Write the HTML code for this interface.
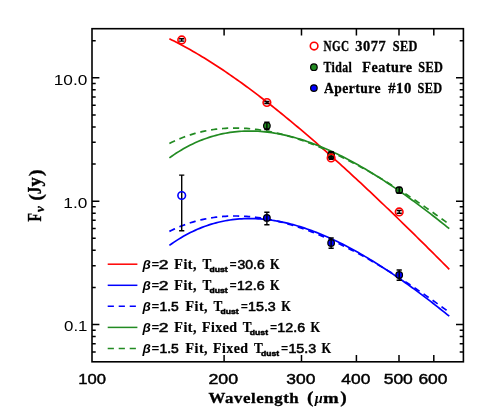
<!DOCTYPE html><html><head><meta charset="utf-8"><style>html,body{margin:0;padding:0;background:#fff}svg{display:block;will-change:transform}text{fill:#000}</style></head><body>
<svg width="491" height="420" viewBox="0 0 491 420">
<rect width="491" height="420" fill="#fff"/>
<path d="M169.39,38.81 L171.72,39.95 L174.06,41.11 L176.39,42.29 L178.72,43.50 L181.05,44.72 L183.39,45.97 L185.72,47.24 L188.05,48.53 L190.38,49.83 L192.72,51.16 L195.05,52.51 L197.38,53.87 L199.71,55.26 L202.05,56.66 L204.38,58.08 L206.71,59.52 L209.04,60.97 L211.37,62.45 L213.71,63.94 L216.04,65.45 L218.37,66.97 L220.70,68.51 L223.04,70.07 L225.37,71.64 L227.70,73.23 L230.03,74.83 L232.37,76.45 L234.70,78.08 L237.03,79.73 L239.36,81.39 L241.70,83.06 L244.03,84.75 L246.36,86.46 L248.69,88.17 L251.02,89.90 L253.36,91.65 L255.69,93.40 L258.02,95.17 L260.35,96.95 L262.69,98.75 L265.02,100.55 L267.35,102.37 L269.68,104.20 L272.02,106.04 L274.35,107.89 L276.68,109.75 L279.01,111.63 L281.35,113.51 L283.68,115.41 L286.01,117.32 L288.34,119.23 L290.67,121.16 L293.01,123.10 L295.34,125.04 L297.67,127.00 L300.00,128.97 L302.34,130.94 L304.67,132.93 L307.00,134.92 L309.33,136.92 L311.67,138.93 L314.00,140.95 L316.33,142.98 L318.66,145.02 L321.00,147.06 L323.33,149.12 L325.66,151.18 L327.99,153.25 L330.33,155.33 L332.66,157.41 L334.99,159.51 L337.32,161.61 L339.65,163.71 L341.99,165.83 L344.32,167.95 L346.65,170.08 L348.98,172.21 L351.32,174.36 L353.65,176.51 L355.98,178.66 L358.31,180.82 L360.65,182.99 L362.98,185.17 L365.31,187.35 L367.64,189.54 L369.98,191.73 L372.31,193.93 L374.64,196.13 L376.97,198.35 L379.30,200.56 L381.64,202.78 L383.97,205.01 L386.30,207.24 L388.63,209.48 L390.97,211.73 L393.30,213.98 L395.63,216.23 L397.96,218.49 L400.30,220.75 L402.63,223.02 L404.96,225.29 L407.29,227.57 L409.63,229.86 L411.96,232.14 L414.29,234.43 L416.62,236.73 L418.95,239.03 L421.29,241.34 L423.62,243.65 L425.95,245.96 L428.28,248.28 L430.62,250.60 L432.95,252.93 L435.28,255.26 L437.61,257.59 L439.95,259.93 L442.28,262.27 L444.61,264.61 L446.94,266.96 L449.28,269.32" fill="none" stroke="#ff0000" stroke-width="1.7"/>
<path d="M169.39,157.86 L171.72,156.21 L174.06,154.62 L176.39,153.08 L178.72,151.61 L181.05,150.19 L183.39,148.83 L185.72,147.52 L188.05,146.27 L190.38,145.08 L192.72,143.93 L195.05,142.85 L197.38,141.81 L199.71,140.83 L202.05,139.89 L204.38,139.01 L206.71,138.18 L209.04,137.39 L211.37,136.66 L213.71,135.97 L216.04,135.33 L218.37,134.74 L220.70,134.19 L223.04,133.69 L225.37,133.24 L227.70,132.83 L230.03,132.46 L232.37,132.13 L234.70,131.85 L237.03,131.61 L239.36,131.42 L241.70,131.26 L244.03,131.14 L246.36,131.07 L248.69,131.03 L251.02,131.03 L253.36,131.07 L255.69,131.15 L258.02,131.26 L260.35,131.41 L262.69,131.60 L265.02,131.83 L267.35,132.09 L269.68,132.38 L272.02,132.71 L274.35,133.07 L276.68,133.47 L279.01,133.90 L281.35,134.36 L283.68,134.85 L286.01,135.37 L288.34,135.93 L290.67,136.52 L293.01,137.13 L295.34,137.78 L297.67,138.46 L300.00,139.16 L302.34,139.89 L304.67,140.66 L307.00,141.44 L309.33,142.26 L311.67,143.10 L314.00,143.97 L316.33,144.87 L318.66,145.79 L321.00,146.74 L323.33,147.71 L325.66,148.71 L327.99,149.73 L330.33,150.77 L332.66,151.84 L334.99,152.94 L337.32,154.05 L339.65,155.19 L341.99,156.35 L344.32,157.53 L346.65,158.73 L348.98,159.95 L351.32,161.20 L353.65,162.47 L355.98,163.75 L358.31,165.06 L360.65,166.38 L362.98,167.73 L365.31,169.09 L367.64,170.47 L369.98,171.87 L372.31,173.29 L374.64,174.73 L376.97,176.18 L379.30,177.65 L381.64,179.14 L383.97,180.65 L386.30,182.17 L388.63,183.71 L390.97,185.27 L393.30,186.84 L395.63,188.42 L397.96,190.02 L400.30,191.64 L402.63,193.27 L404.96,194.92 L407.29,196.58 L409.63,198.25 L411.96,199.94 L414.29,201.64 L416.62,203.36 L418.95,205.09 L421.29,206.83 L423.62,208.58 L425.95,210.35 L428.28,212.13 L430.62,213.92 L432.95,215.73 L435.28,217.54 L437.61,219.37 L439.95,221.21 L442.28,223.06 L444.61,224.92 L446.94,226.80 L449.28,228.68" fill="none" stroke="#228b22" stroke-width="1.7"/>
<path d="M169.39,143.41 L171.72,142.26 L174.06,141.17 L176.39,140.13 L178.72,139.13 L181.05,138.18 L183.39,137.28 L185.72,136.42 L188.05,135.61 L190.38,134.84 L192.72,134.12 L195.05,133.44 L197.38,132.81 L199.71,132.21 L202.05,131.66 L204.38,131.15 L206.71,130.68 L209.04,130.25 L211.37,129.86 L213.71,129.51 L216.04,129.20 L218.37,128.93 L220.70,128.69 L223.04,128.50 L225.37,128.33 L227.70,128.21 L230.03,128.12 L232.37,128.06 L234.70,128.04 L237.03,128.05 L239.36,128.10 L241.70,128.18 L244.03,128.30 L246.36,128.44 L248.69,128.62 L251.02,128.83 L253.36,129.07 L255.69,129.34 L258.02,129.64 L260.35,129.97 L262.69,130.33 L265.02,130.72 L267.35,131.13 L269.68,131.58 L272.02,132.05 L274.35,132.55 L276.68,133.07 L279.01,133.63 L281.35,134.20 L283.68,134.81 L286.01,135.44 L288.34,136.09 L290.67,136.77 L293.01,137.47 L295.34,138.20 L297.67,138.95 L300.00,139.72 L302.34,140.52 L304.67,141.34 L307.00,142.18 L309.33,143.04 L311.67,143.92 L314.00,144.82 L316.33,145.75 L318.66,146.70 L321.00,147.66 L323.33,148.65 L325.66,149.65 L327.99,150.68 L330.33,151.72 L332.66,152.78 L334.99,153.86 L337.32,154.96 L339.65,156.07 L341.99,157.21 L344.32,158.36 L346.65,159.53 L348.98,160.71 L351.32,161.91 L353.65,163.13 L355.98,164.36 L358.31,165.61 L360.65,166.88 L362.98,168.16 L365.31,169.45 L367.64,170.76 L369.98,172.08 L372.31,173.42 L374.64,174.77 L376.97,176.14 L379.30,177.52 L381.64,178.91 L383.97,180.32 L386.30,181.74 L388.63,183.17 L390.97,184.61 L393.30,186.07 L395.63,187.54 L397.96,189.02 L400.30,190.52 L402.63,192.02 L404.96,193.54 L407.29,195.07 L409.63,196.60 L411.96,198.15 L414.29,199.71 L416.62,201.29 L418.95,202.87 L421.29,204.46 L423.62,206.06 L425.95,207.67 L428.28,209.30 L430.62,210.93 L432.95,212.57 L435.28,214.22 L437.61,215.88 L439.95,217.55 L442.28,219.22 L444.61,220.91 L446.94,222.61 L449.28,224.31" fill="none" stroke="#228b22" stroke-width="1.7" stroke-dasharray="6.2,4.8"/>
<path d="M169.39,245.38 L171.72,243.73 L174.06,242.14 L176.39,240.60 L178.72,239.13 L181.05,237.71 L183.39,236.35 L185.72,235.04 L188.05,233.79 L190.38,232.60 L192.72,231.45 L195.05,230.37 L197.38,229.33 L199.71,228.35 L202.05,227.41 L204.38,226.53 L206.71,225.70 L209.04,224.91 L211.37,224.18 L213.71,223.49 L216.04,222.85 L218.37,222.26 L220.70,221.72 L223.04,221.21 L225.37,220.76 L227.70,220.35 L230.03,219.98 L232.37,219.66 L234.70,219.37 L237.03,219.13 L239.36,218.94 L241.70,218.78 L244.03,218.66 L246.36,218.59 L248.69,218.55 L251.02,218.55 L253.36,218.59 L255.69,218.67 L258.02,218.78 L260.35,218.94 L262.69,219.12 L265.02,219.35 L267.35,219.61 L269.68,219.90 L272.02,220.23 L274.35,220.59 L276.68,220.99 L279.01,221.42 L281.35,221.88 L283.68,222.37 L286.01,222.90 L288.34,223.45 L290.67,224.04 L293.01,224.65 L295.34,225.30 L297.67,225.98 L300.00,226.68 L302.34,227.41 L304.67,228.18 L307.00,228.97 L309.33,229.78 L311.67,230.63 L314.00,231.50 L316.33,232.39 L318.66,233.31 L321.00,234.26 L323.33,235.23 L325.66,236.23 L327.99,237.25 L330.33,238.30 L332.66,239.36 L334.99,240.46 L337.32,241.57 L339.65,242.71 L341.99,243.87 L344.32,245.05 L346.65,246.25 L348.98,247.48 L351.32,248.72 L353.65,249.99 L355.98,251.27 L358.31,252.58 L360.65,253.90 L362.98,255.25 L365.31,256.61 L367.64,257.99 L369.98,259.39 L372.31,260.81 L374.64,262.25 L376.97,263.70 L379.30,265.18 L381.64,266.66 L383.97,268.17 L386.30,269.69 L388.63,271.23 L390.97,272.79 L393.30,274.36 L395.63,275.94 L397.96,277.54 L400.30,279.16 L402.63,280.79 L404.96,282.44 L407.29,284.10 L409.63,285.77 L411.96,287.46 L414.29,289.16 L416.62,290.88 L418.95,292.61 L421.29,294.35 L423.62,296.10 L425.95,297.87 L428.28,299.65 L430.62,301.44 L432.95,303.25 L435.28,305.06 L437.61,306.89 L439.95,308.73 L442.28,310.58 L444.61,312.45 L446.94,314.32 L449.28,316.20" fill="none" stroke="#0000ff" stroke-width="1.7"/>
<path d="M169.39,231.37 L171.72,230.23 L174.06,229.14 L176.39,228.09 L178.72,227.10 L181.05,226.15 L183.39,225.25 L185.72,224.39 L188.05,223.58 L190.38,222.81 L192.72,222.09 L195.05,221.41 L197.38,220.77 L199.71,220.18 L202.05,219.63 L204.38,219.12 L206.71,218.65 L209.04,218.22 L211.37,217.83 L213.71,217.48 L216.04,217.17 L218.37,216.90 L220.70,216.66 L223.04,216.46 L225.37,216.30 L227.70,216.17 L230.03,216.08 L232.37,216.03 L234.70,216.01 L237.03,216.02 L239.36,216.07 L241.70,216.15 L244.03,216.26 L246.36,216.41 L248.69,216.59 L251.02,216.79 L253.36,217.03 L255.69,217.30 L258.02,217.60 L260.35,217.93 L262.69,218.29 L265.02,218.68 L267.35,219.10 L269.68,219.54 L272.02,220.01 L274.35,220.51 L276.68,221.04 L279.01,221.59 L281.35,222.17 L283.68,222.77 L286.01,223.40 L288.34,224.06 L290.67,224.74 L293.01,225.44 L295.34,226.16 L297.67,226.91 L300.00,227.69 L302.34,228.48 L304.67,229.30 L307.00,230.14 L309.33,231.00 L311.67,231.89 L314.00,232.79 L316.33,233.72 L318.66,234.66 L321.00,235.63 L323.33,236.61 L325.66,237.62 L327.99,238.64 L330.33,239.68 L332.66,240.75 L334.99,241.83 L337.32,242.93 L339.65,244.04 L341.99,245.17 L344.32,246.33 L346.65,247.49 L348.98,248.68 L351.32,249.88 L353.65,251.10 L355.98,252.33 L358.31,253.58 L360.65,254.84 L362.98,256.12 L365.31,257.42 L367.64,258.73 L369.98,260.05 L372.31,261.39 L374.64,262.74 L376.97,264.11 L379.30,265.49 L381.64,266.88 L383.97,268.28 L386.30,269.70 L388.63,271.14 L390.97,272.58 L393.30,274.04 L395.63,275.51 L397.96,276.99 L400.30,278.48 L402.63,279.99 L404.96,281.50 L407.29,283.03 L409.63,284.57 L411.96,286.12 L414.29,287.68 L416.62,289.25 L418.95,290.83 L421.29,292.43 L423.62,294.03 L425.95,295.64 L428.28,297.26 L430.62,298.89 L432.95,300.53 L435.28,302.18 L437.61,303.84 L439.95,305.51 L442.28,307.19 L444.61,308.88 L446.94,310.57 L449.28,312.28" fill="none" stroke="#0000ff" stroke-width="1.7" stroke-dasharray="6.2,4.8"/>
<rect x="92.0" y="28.7" width="371.4" height="333.1" fill="none" stroke="#000" stroke-width="1.6"/>
<path d="M224.10,361.80 v-6.90 M224.10,28.70 v6.90 M301.49,361.80 v-6.90 M301.49,28.70 v6.90 M356.41,361.80 v-6.90 M356.41,28.70 v6.90 M399.00,361.80 v-6.90 M399.00,28.70 v6.90 M433.80,361.80 v-6.90 M433.80,28.70 v6.90 M92.00,351.98 h3.70 M463.40,351.98 h-3.70 M92.00,343.71 h3.70 M463.40,343.71 h-3.70 M92.00,336.56 h3.70 M463.40,336.56 h-3.70 M92.00,330.25 h3.70 M463.40,330.25 h-3.70 M92.00,324.60 h7.40 M463.40,324.60 h-7.40 M92.00,287.45 h3.70 M463.40,287.45 h-3.70 M92.00,265.72 h3.70 M463.40,265.72 h-3.70 M92.00,250.31 h3.70 M463.40,250.31 h-3.70 M92.00,238.35 h3.70 M463.40,238.35 h-3.70 M92.00,228.58 h3.70 M463.40,228.58 h-3.70 M92.00,220.31 h3.70 M463.40,220.31 h-3.70 M92.00,213.16 h3.70 M463.40,213.16 h-3.70 M92.00,206.85 h3.70 M463.40,206.85 h-3.70 M92.00,201.20 h7.40 M463.40,201.20 h-7.40 M92.00,164.05 h3.70 M463.40,164.05 h-3.70 M92.00,142.32 h3.70 M463.40,142.32 h-3.70 M92.00,126.91 h3.70 M463.40,126.91 h-3.70 M92.00,114.95 h3.70 M463.40,114.95 h-3.70 M92.00,105.18 h3.70 M463.40,105.18 h-3.70 M92.00,96.91 h3.70 M463.40,96.91 h-3.70 M92.00,89.76 h3.70 M463.40,89.76 h-3.70 M92.00,83.45 h3.70 M463.40,83.45 h-3.70 M92.00,77.80 h7.40 M463.40,77.80 h-7.40 M92.00,40.65 h3.70 M463.40,40.65 h-3.70" fill="none" stroke="#000" stroke-width="1.5"/>
<circle cx="266.89" cy="125.80" r="3.3" fill="#228b22" stroke="#000" stroke-width="1.2"/><path d="M266.89,122.30 V129.50 M264.29,122.30 h5.20 M264.29,129.50 h5.20" stroke="#000" stroke-width="1.4" fill="none"/>
<circle cx="331.12" cy="155.10" r="3.3" fill="#228b22" stroke="#000" stroke-width="1.2"/><path d="M331.12,151.80 V158.40 M328.52,151.80 h5.20 M328.52,158.40 h5.20" stroke="#000" stroke-width="1.4" fill="none"/>
<circle cx="399.20" cy="190.20" r="3.3" fill="#228b22" stroke="#000" stroke-width="1.2"/><path d="M399.20,187.40 V193.00 M396.60,187.40 h5.20 M396.60,193.00 h5.20" stroke="#000" stroke-width="1.4" fill="none"/>
<path d="M181.71,175.10 V230.70 M179.11,175.10 h5.20 M179.11,230.70 h5.20" stroke="#000" stroke-width="1.4" fill="none"/><circle cx="181.71" cy="195.50" r="3.8" fill="none" stroke="#0000ff" stroke-width="1.6"/>
<circle cx="266.89" cy="217.90" r="3.3" fill="#0000ff" stroke="#000" stroke-width="1.2"/><path d="M266.89,212.30 V224.80 M264.29,212.30 h5.20 M264.29,224.80 h5.20" stroke="#000" stroke-width="1.4" fill="none"/>
<circle cx="331.12" cy="243.00" r="3.3" fill="#0000ff" stroke="#000" stroke-width="1.2"/><path d="M331.12,238.00 V248.20 M328.52,238.00 h5.20 M328.52,248.20 h5.20" stroke="#000" stroke-width="1.4" fill="none"/>
<circle cx="399.20" cy="275.00" r="3.3" fill="#0000ff" stroke="#000" stroke-width="1.2"/><path d="M399.20,270.00 V280.30 M396.60,270.00 h5.20 M396.60,280.30 h5.20" stroke="#000" stroke-width="1.4" fill="none"/>
<path d="M181.71,38.70 V41.10 M179.11,38.70 h5.20 M179.11,41.10 h5.20" stroke="#000" stroke-width="1.4" fill="none"/><circle cx="181.71" cy="39.90" r="3.8" fill="none" stroke="#ff0000" stroke-width="1.6"/>
<path d="M266.89,101.50 V103.50 M264.29,101.50 h5.20 M264.29,103.50 h5.20" stroke="#000" stroke-width="1.4" fill="none"/><circle cx="266.89" cy="102.50" r="3.8" fill="none" stroke="#ff0000" stroke-width="1.6"/>
<path d="M331.12,156.60 V159.20 M328.52,156.60 h5.20 M328.52,159.20 h5.20" stroke="#000" stroke-width="1.4" fill="none"/><circle cx="331.12" cy="157.90" r="3.8" fill="none" stroke="#ff0000" stroke-width="1.6"/>
<path d="M399.20,210.50 V213.30 M396.60,210.50 h5.20 M396.60,213.30 h5.20" stroke="#000" stroke-width="1.4" fill="none"/><circle cx="399.20" cy="211.90" r="3.8" fill="none" stroke="#ff0000" stroke-width="1.6"/>
<circle cx="314.1" cy="46.1" r="3.8" fill="none" stroke="#ff0000" stroke-width="1.6"/>
<circle cx="313.9" cy="67.2" r="3.3" fill="#228b22" stroke="#000" stroke-width="1.2"/>
<circle cx="313.9" cy="88.1" r="3.3" fill="#0000ff" stroke="#000" stroke-width="1.2"/>
<path d="M107.7,264.2 H137.4" stroke="#ff0000" stroke-width="1.5" />
<path d="M107.7,285.3 H137.4" stroke="#0000ff" stroke-width="1.5" />
<path d="M107.7,306.3 H137.4" stroke="#0000ff" stroke-width="1.5" stroke-dasharray="6.2,4.8"/>
<path d="M107.7,327.4 H137.4" stroke="#228b22" stroke-width="1.5" />
<path d="M107.7,348.4 H137.4" stroke="#228b22" stroke-width="1.5" stroke-dasharray="6.2,4.8"/>
<text transform="translate(323.49,50.60) scale(0.7816,1)" font-size="14.3" style="font-family:'Liberation Serif';font-weight:bold;stroke:#000;stroke-width:0.3px;letter-spacing:0.5px">NGC</text>
<text transform="translate(355.37,50.60) scale(1.0073,1)" font-size="14.3" style="font-family:'Liberation Serif';font-weight:bold;stroke:#000;stroke-width:0.3px;letter-spacing:0.5px">3077</text>
<text transform="translate(392.68,50.60) scale(0.8618,1)" font-size="14.3" style="font-family:'Liberation Serif';font-weight:bold;stroke:#000;stroke-width:0.3px;letter-spacing:0.5px">SED</text>
<text transform="translate(323.48,71.70) scale(0.8276,1)" font-size="14.3" style="font-family:'Liberation Serif';font-weight:bold;stroke:#000;stroke-width:0.3px;letter-spacing:0.5px">Tidal</text>
<text transform="translate(362.26,71.70) scale(0.9900,1)" font-size="14.3" style="font-family:'Liberation Serif';font-weight:bold;stroke:#000;stroke-width:0.3px;letter-spacing:0.5px">Feature</text>
<text transform="translate(418.18,71.70) scale(0.8618,1)" font-size="14.3" style="font-family:'Liberation Serif';font-weight:bold;stroke:#000;stroke-width:0.3px;letter-spacing:0.5px">SED</text>
<text transform="translate(324.00,92.50) scale(0.9514,1)" font-size="14.3" style="font-family:'Liberation Serif';font-weight:bold;stroke:#000;stroke-width:0.3px;letter-spacing:0.5px">Aperture</text>
<text transform="translate(388.15,92.50) scale(1.0284,1)" font-size="14.3" style="font-family:'Liberation Serif';font-weight:bold;stroke:#000;stroke-width:0.3px;letter-spacing:0.5px">#10</text>
<text transform="translate(417.38,92.50) scale(0.8618,1)" font-size="14.3" style="font-family:'Liberation Serif';font-weight:bold;stroke:#000;stroke-width:0.3px;letter-spacing:0.5px">SED</text>
<text transform="translate(142.40,268.70) scale(1.0065,1)" font-size="13.3" style="font-family:'Liberation Sans';font-weight:bold;font-style:italic">β</text>
<text transform="translate(151.45,268.70) scale(0.9821,1)" font-size="14" style="font-family:'Liberation Serif';font-weight:bold;stroke:#000;stroke-width:0.22px;letter-spacing:0.5px">=</text>
<text transform="translate(158.73,268.70) scale(1.3378,1)" font-size="13" style="font-family:'Liberation Sans';stroke:#000;stroke-width:0.55px">2</text>
<text transform="translate(174.36,268.70) scale(1.0026,1)" font-size="14" style="font-family:'Liberation Serif';font-weight:bold;stroke:#000;stroke-width:0.22px;letter-spacing:0.5px">Fit,</text>
<text transform="translate(202.47,268.70) scale(0.9451,1)" font-size="14" style="font-family:'Liberation Serif';font-weight:bold;stroke:#000;stroke-width:0.22px;letter-spacing:0.5px">T</text>
<text transform="translate(209.46,271.90) scale(1.0760,1)" font-size="8" style="font-family:'Liberation Sans';font-weight:bold;stroke:#000;stroke-width:0.5px">dust</text>
<text transform="translate(229.59,268.70) scale(0.9077,1)" font-size="14" style="font-family:'Liberation Serif';font-weight:bold;stroke:#000;stroke-width:0.22px;letter-spacing:0.5px">=</text>
<text transform="translate(237.48,268.70) scale(1.0760,1)" font-size="13" style="font-family:'Liberation Sans';stroke:#000;stroke-width:0.55px">30.6</text>
<text transform="translate(270.08,268.70) scale(0.8835,1)" font-size="14" style="font-family:'Liberation Serif';font-weight:bold;stroke:#000;stroke-width:0.22px;letter-spacing:0.5px">K</text>
<text transform="translate(142.40,289.80) scale(1.0065,1)" font-size="13.3" style="font-family:'Liberation Sans';font-weight:bold;font-style:italic">β</text>
<text transform="translate(151.45,289.80) scale(0.9821,1)" font-size="14" style="font-family:'Liberation Serif';font-weight:bold;stroke:#000;stroke-width:0.22px;letter-spacing:0.5px">=</text>
<text transform="translate(158.73,289.80) scale(1.3378,1)" font-size="13" style="font-family:'Liberation Sans';stroke:#000;stroke-width:0.55px">2</text>
<text transform="translate(174.36,289.80) scale(1.0026,1)" font-size="14" style="font-family:'Liberation Serif';font-weight:bold;stroke:#000;stroke-width:0.22px;letter-spacing:0.5px">Fit,</text>
<text transform="translate(202.47,289.80) scale(0.9451,1)" font-size="14" style="font-family:'Liberation Serif';font-weight:bold;stroke:#000;stroke-width:0.22px;letter-spacing:0.5px">T</text>
<text transform="translate(209.46,293.00) scale(1.0760,1)" font-size="8" style="font-family:'Liberation Sans';font-weight:bold;stroke:#000;stroke-width:0.5px">dust</text>
<text transform="translate(229.59,289.80) scale(0.9077,1)" font-size="14" style="font-family:'Liberation Serif';font-weight:bold;stroke:#000;stroke-width:0.22px;letter-spacing:0.5px">=</text>
<text transform="translate(236.90,289.80) scale(1.0994,1)" font-size="13" style="font-family:'Liberation Sans';stroke:#000;stroke-width:0.55px">12.6</text>
<text transform="translate(270.08,289.80) scale(0.8835,1)" font-size="14" style="font-family:'Liberation Serif';font-weight:bold;stroke:#000;stroke-width:0.22px;letter-spacing:0.5px">K</text>
<text transform="translate(142.40,310.80) scale(1.0065,1)" font-size="13.3" style="font-family:'Liberation Sans';font-weight:bold;font-style:italic">β</text>
<text transform="translate(151.45,310.80) scale(0.9821,1)" font-size="14" style="font-family:'Liberation Serif';font-weight:bold;stroke:#000;stroke-width:0.22px;letter-spacing:0.5px">=</text>
<text transform="translate(159.42,310.80) scale(1.0724,1)" font-size="13" style="font-family:'Liberation Sans';stroke:#000;stroke-width:0.55px">1.5</text>
<text transform="translate(185.46,310.80) scale(1.0026,1)" font-size="14" style="font-family:'Liberation Serif';font-weight:bold;stroke:#000;stroke-width:0.22px;letter-spacing:0.5px">Fit,</text>
<text transform="translate(213.57,310.80) scale(0.9451,1)" font-size="14" style="font-family:'Liberation Serif';font-weight:bold;stroke:#000;stroke-width:0.22px;letter-spacing:0.5px">T</text>
<text transform="translate(220.56,314.00) scale(1.0760,1)" font-size="8" style="font-family:'Liberation Sans';font-weight:bold;stroke:#000;stroke-width:0.5px">dust</text>
<text transform="translate(240.69,310.80) scale(0.9077,1)" font-size="14" style="font-family:'Liberation Serif';font-weight:bold;stroke:#000;stroke-width:0.22px;letter-spacing:0.5px">=</text>
<text transform="translate(248.00,310.80) scale(1.0994,1)" font-size="13" style="font-family:'Liberation Sans';stroke:#000;stroke-width:0.55px">15.3</text>
<text transform="translate(281.18,310.80) scale(0.8835,1)" font-size="14" style="font-family:'Liberation Serif';font-weight:bold;stroke:#000;stroke-width:0.22px;letter-spacing:0.5px">K</text>
<text transform="translate(142.40,331.90) scale(1.0065,1)" font-size="13.3" style="font-family:'Liberation Sans';font-weight:bold;font-style:italic">β</text>
<text transform="translate(151.45,331.90) scale(0.9821,1)" font-size="14" style="font-family:'Liberation Serif';font-weight:bold;stroke:#000;stroke-width:0.22px;letter-spacing:0.5px">=</text>
<text transform="translate(158.73,331.90) scale(1.3378,1)" font-size="13" style="font-family:'Liberation Sans';stroke:#000;stroke-width:0.55px">2</text>
<text transform="translate(174.36,331.90) scale(1.0026,1)" font-size="14" style="font-family:'Liberation Serif';font-weight:bold;stroke:#000;stroke-width:0.22px;letter-spacing:0.5px">Fit,</text>
<text transform="translate(201.96,331.90) scale(0.9882,1)" font-size="14" style="font-family:'Liberation Serif';font-weight:bold;stroke:#000;stroke-width:0.22px;letter-spacing:0.5px">Fixed</text>
<text transform="translate(242.87,331.90) scale(0.9451,1)" font-size="14" style="font-family:'Liberation Serif';font-weight:bold;stroke:#000;stroke-width:0.22px;letter-spacing:0.5px">T</text>
<text transform="translate(249.86,335.10) scale(1.0760,1)" font-size="8" style="font-family:'Liberation Sans';font-weight:bold;stroke:#000;stroke-width:0.5px">dust</text>
<text transform="translate(269.99,331.90) scale(0.9077,1)" font-size="14" style="font-family:'Liberation Serif';font-weight:bold;stroke:#000;stroke-width:0.22px;letter-spacing:0.5px">=</text>
<text transform="translate(277.30,331.90) scale(1.0994,1)" font-size="13" style="font-family:'Liberation Sans';stroke:#000;stroke-width:0.55px">12.6</text>
<text transform="translate(310.48,331.90) scale(0.8835,1)" font-size="14" style="font-family:'Liberation Serif';font-weight:bold;stroke:#000;stroke-width:0.22px;letter-spacing:0.5px">K</text>
<text transform="translate(142.40,352.90) scale(1.0065,1)" font-size="13.3" style="font-family:'Liberation Sans';font-weight:bold;font-style:italic">β</text>
<text transform="translate(151.45,352.90) scale(0.9821,1)" font-size="14" style="font-family:'Liberation Serif';font-weight:bold;stroke:#000;stroke-width:0.22px;letter-spacing:0.5px">=</text>
<text transform="translate(159.42,352.90) scale(1.0724,1)" font-size="13" style="font-family:'Liberation Sans';stroke:#000;stroke-width:0.55px">1.5</text>
<text transform="translate(185.46,352.90) scale(1.0026,1)" font-size="14" style="font-family:'Liberation Serif';font-weight:bold;stroke:#000;stroke-width:0.22px;letter-spacing:0.5px">Fit,</text>
<text transform="translate(213.06,352.90) scale(0.9882,1)" font-size="14" style="font-family:'Liberation Serif';font-weight:bold;stroke:#000;stroke-width:0.22px;letter-spacing:0.5px">Fixed</text>
<text transform="translate(253.97,352.90) scale(0.9451,1)" font-size="14" style="font-family:'Liberation Serif';font-weight:bold;stroke:#000;stroke-width:0.22px;letter-spacing:0.5px">T</text>
<text transform="translate(260.96,356.10) scale(1.0760,1)" font-size="8" style="font-family:'Liberation Sans';font-weight:bold;stroke:#000;stroke-width:0.5px">dust</text>
<text transform="translate(281.09,352.90) scale(0.9077,1)" font-size="14" style="font-family:'Liberation Serif';font-weight:bold;stroke:#000;stroke-width:0.22px;letter-spacing:0.5px">=</text>
<text transform="translate(288.40,352.90) scale(1.0994,1)" font-size="13" style="font-family:'Liberation Sans';stroke:#000;stroke-width:0.55px">15.3</text>
<text transform="translate(321.58,352.90) scale(0.8835,1)" font-size="14" style="font-family:'Liberation Serif';font-weight:bold;stroke:#000;stroke-width:0.22px;letter-spacing:0.5px">K</text>
<text transform="translate(78.14,383.70) scale(1.1095,1)" font-size="15" style="font-family:'Liberation Sans';stroke:#000;stroke-width:0.45px">100</text>
<text transform="translate(208.41,383.70) scale(1.1881,1)" font-size="15" style="font-family:'Liberation Sans';stroke:#000;stroke-width:0.45px">200</text>
<text transform="translate(286.27,383.70) scale(1.1650,1)" font-size="15" style="font-family:'Liberation Sans';stroke:#000;stroke-width:0.45px">300</text>
<text transform="translate(341.36,383.70) scale(1.1578,1)" font-size="15" style="font-family:'Liberation Sans';stroke:#000;stroke-width:0.45px">400</text>
<text transform="translate(383.65,383.70) scale(1.1681,1)" font-size="15" style="font-family:'Liberation Sans';stroke:#000;stroke-width:0.45px">500</text>
<text transform="translate(418.43,383.70) scale(1.1629,1)" font-size="15" style="font-family:'Liberation Sans';stroke:#000;stroke-width:0.45px">600</text>
<text transform="translate(53.69,84.50) scale(1.1295,1)" font-size="15.3" style="font-family:'Liberation Sans'">10.0</text>
<text transform="translate(63.29,207.90) scale(1.1301,1)" font-size="15.3" style="font-family:'Liberation Sans'">1.0</text>
<text transform="translate(63.99,331.30) scale(1.1043,1)" font-size="15.3" style="font-family:'Liberation Sans'">0.1</text>
<text transform="translate(208.43,402.60) scale(1.1249,1)" font-size="15" style="font-family:'Liberation Serif';font-weight:bold;stroke:#000;stroke-width:0.3px;letter-spacing:0.5px">Wavelength</text>
<text transform="translate(307.11,402.90) scale(1.2269,1)" font-size="16" style="font-family:'Liberation Serif';font-weight:bold;stroke:#000;stroke-width:0.22px;letter-spacing:0.5px">(</text>
<text transform="translate(314.72,402.60) scale(0.9655,1)" font-size="15" style="font-family:'Liberation Serif';font-weight:bold;font-style:italic">μ</text>
<text transform="translate(323.12,402.60) scale(1.2583,1)" font-size="15" style="font-family:'Liberation Serif';font-weight:bold;stroke:#000;stroke-width:0.3px;letter-spacing:0.5px">m</text>
<text transform="translate(340.31,402.90) scale(1.2260,1)" font-size="16" style="font-family:'Liberation Serif';font-weight:bold;stroke:#000;stroke-width:0.22px;letter-spacing:0.5px">)</text>
<g transform="translate(41.0,221.5) rotate(-90)">
<text transform="translate(-0.04,0.00) scale(0.9606,1.270)" font-size="14.5" style="font-family:'Liberation Serif';font-weight:bold;stroke:#000;stroke-width:0.3px">F</text>
<text transform="translate(9.40,3.30) scale(1.3043,1.270)" font-size="10" style="font-family:'Liberation Serif';font-weight:bold;font-style:italic;stroke:#000;stroke-width:0.3px">ν</text>
<text transform="translate(20.69,0.60) scale(1.3580,1.250)" font-size="15" style="font-family:'Liberation Serif';font-weight:bold;stroke:#000;stroke-width:0.22px">(</text>
<text transform="translate(27.31,0.00) scale(1.0188,1.270)" font-size="14.5" style="font-family:'Liberation Serif';font-weight:bold;stroke:#000;stroke-width:0.3px">J</text>
<text transform="translate(35.10,0.00) scale(1.2828,1.270)" font-size="14.5" style="font-family:'Liberation Serif';font-weight:bold;stroke:#000;stroke-width:0.3px">y</text>
<text transform="translate(45.37,0.60) scale(1.4103,1.250)" font-size="15" style="font-family:'Liberation Serif';font-weight:bold;stroke:#000;stroke-width:0.22px">)</text>
</g>
</svg></body></html>
